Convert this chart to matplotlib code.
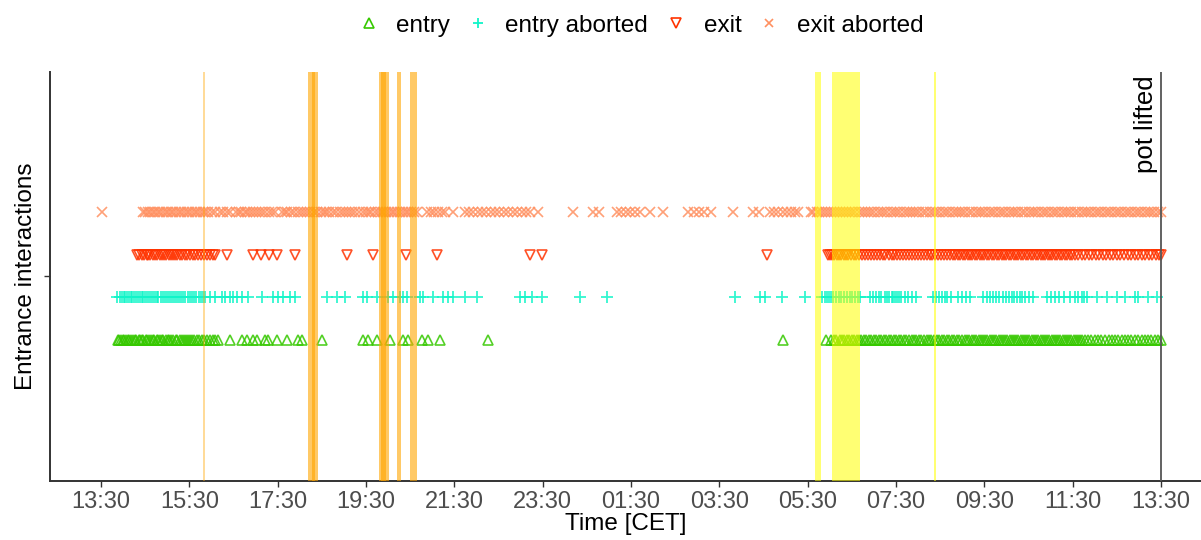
import matplotlib
matplotlib.use("Agg")
import matplotlib.pyplot as plt
from matplotlib.lines import Line2D
import matplotlib.transforms as mtransforms

# ---------------- data (clock hours; values < 13.5 belong to the next day) ----------------
categories = ["entry", "entry aborted", "exit", "exit aborted"]

entry = [
    13.88, 13.91, 13.95, 13.99, 14.02, 14.06, 14.11, 14.14, 14.18, 14.23, 14.27, 14.30, 14.35,
    14.39, 14.43, 14.46, 14.51, 14.55, 14.58, 14.63, 14.67, 14.71, 14.76, 14.79, 14.84, 14.88,
    14.91, 14.96, 15.01, 15.05, 15.09, 15.14, 15.19, 15.23, 15.28, 15.33, 15.37, 15.42, 15.47,
    15.51, 15.56, 15.61, 15.67, 15.72, 15.78, 15.84, 15.90, 15.97, 16.03, 16.09, 16.14,
    16.42, 16.69, 16.80, 16.94, 17.03, 17.21, 17.28, 17.49, 17.71, 17.96, 18.05, 18.50,
    19.43, 19.55, 19.75, 20.04, 20.34, 20.45, 20.77, 20.90, 21.18, 22.26,
    4.94, 5.91,
    6.03, 6.10, 6.15, 6.22, 6.28, 6.33, 6.39, 6.44, 6.50, 6.55, 6.61, 6.66, 6.71, 6.77, 6.83,
    6.88, 6.94, 6.99, 7.05, 7.11, 7.16, 7.22, 7.27, 7.33, 7.39, 7.45, 7.50, 7.56, 7.62, 7.67,
    7.73, 7.79, 7.85, 7.90, 7.96, 8.02, 8.07, 8.13, 8.19, 8.25, 8.30, 8.36, 8.42, 8.47, 8.53,
    8.59, 8.65, 8.70, 8.76, 8.82, 8.87, 8.93, 8.99, 9.05, 9.10, 9.16, 9.21, 9.27, 9.32, 9.37,
    9.42, 9.47, 9.52, 9.57, 9.62, 9.67, 9.72, 9.77, 9.82, 9.87, 9.92, 9.97, 10.02, 10.07,
    10.12, 10.17, 10.22, 10.27, 10.32, 10.37, 10.42, 10.47, 10.52, 10.57, 10.62, 10.67, 10.72,
    10.77, 10.82, 10.87, 10.92, 10.97, 11.02, 11.07, 11.12, 11.17, 11.22, 11.27, 11.32, 11.37,
    11.42, 11.47, 11.52, 11.57, 11.62, 11.67, 11.72, 11.77, 11.84, 11.92, 12.00, 12.08, 12.15,
    12.23, 12.31, 12.38, 12.46, 12.53, 12.61, 12.68, 12.76, 12.83, 12.91, 12.98, 13.06, 13.13,
    13.21, 13.28, 13.36, 13.43, 13.49,
]

entry_aborted = [
    13.86, 13.93, 13.97, 14.01, 14.05, 14.09, 14.13, 14.17, 14.21, 14.25, 14.29, 14.34, 14.38,
    14.42, 14.46, 14.50, 14.55, 14.59, 14.63, 14.68, 14.72, 14.76, 14.80, 14.85, 14.90, 14.94,
    14.99, 15.03, 15.08, 15.12, 15.17, 15.22, 15.27, 15.31, 15.36, 15.41, 15.46, 15.51, 15.56,
    15.61, 15.66, 15.71, 15.76, 15.81, 15.85,
    15.97, 16.08, 16.24, 16.31, 16.42, 16.49, 16.58, 16.69, 16.83, 17.14, 17.39, 17.51, 17.62,
    17.78, 17.89, 18.62, 18.84, 19.02,
    19.43, 19.52, 19.75, 20.00, 20.11, 20.27, 20.34, 20.43, 20.72, 20.79, 21.02, 21.24, 21.36,
    21.47, 21.74, 22.01, 22.99, 23.10, 23.26, 23.48,
    0.34, 0.96, 3.85, 4.42, 4.53, 4.92, 5.44,
    5.82, 5.88, 5.93, 5.98, 6.03, 6.08, 6.13, 6.20, 6.26, 6.33, 6.38, 6.45, 6.51, 6.58, 6.63,
    6.68, 6.91, 6.98, 7.05, 7.12, 7.17, 7.24, 7.30, 7.35, 7.40, 7.44, 7.48, 7.52, 7.56, 7.62,
    7.70, 7.78, 7.86, 7.95, 8.34, 8.40, 8.47, 8.53, 8.60, 8.66, 8.75, 8.90, 9.00, 9.08, 9.17,
    9.47, 9.55, 9.62, 9.70, 9.77, 9.84, 9.92, 9.98, 10.05, 10.12, 10.18, 10.24, 10.30, 10.36,
    10.42, 10.50, 10.60, 10.92, 11.00, 11.10, 11.20, 11.30, 11.44, 11.55, 11.63, 11.70, 11.75,
    11.82, 12.05, 12.27, 12.50, 12.68, 12.91, 12.98, 13.20, 13.41,
]

exit_ = [
    14.31, 14.36, 14.42, 14.47, 14.53, 14.57, 14.62, 14.68, 14.72, 14.77, 14.83, 14.88, 14.92,
    14.98, 15.03, 15.08, 15.12, 15.18, 15.23, 15.28, 15.34, 15.40, 15.45, 15.52, 15.58, 15.63,
    15.70, 15.76, 15.84, 15.90, 15.97, 16.03, 16.08,
    16.35, 16.94, 17.12, 17.30, 17.48, 17.90, 19.07, 19.66, 20.40, 21.11, 23.21, 23.48, 4.58,
    5.96, 6.01, 6.05, 6.10, 6.16, 6.20, 6.26, 6.31, 6.37, 6.42, 6.48, 6.55, 6.60, 6.67, 6.73,
    6.80, 6.86, 6.93, 7.00, 7.06, 7.13, 7.20, 7.26, 7.33, 7.40, 7.46, 7.53, 7.60, 7.66, 7.73,
    7.80, 7.86, 7.93, 8.00, 8.06, 8.13, 8.20, 8.26, 8.32, 8.38, 8.45, 8.52, 8.58, 8.65, 8.72,
    8.78, 8.84, 8.90, 8.95, 9.01, 9.06, 9.12, 9.17, 9.23, 9.28, 9.34, 9.39, 9.45, 9.50, 9.56,
    9.61, 9.67, 9.72, 9.78, 9.83, 9.89, 9.94, 10.00, 10.05, 10.11, 10.16, 10.22, 10.27, 10.33,
    10.38, 10.44, 10.49, 10.55, 10.60, 10.66, 10.71, 10.77, 10.82, 10.88, 10.93, 10.99, 11.04,
    11.10, 11.15, 11.21, 11.26, 11.32, 11.37, 11.43, 11.48, 11.54, 11.62, 11.70, 11.78, 11.86,
    11.94, 12.02, 12.10, 12.18, 12.26, 12.34, 12.42, 12.50, 12.58, 12.66, 12.74, 12.82, 12.90,
    12.98, 13.06, 13.14, 13.22, 13.30, 13.38, 13.45, 13.49,
]

exit_aborted = [
    13.53,
    14.45, 14.50, 14.56, 14.61, 14.67, 14.72, 14.78, 14.83, 14.90, 14.96, 15.02, 15.08, 15.13,
    15.20, 15.26, 15.31, 15.38, 15.44, 15.50, 15.57, 15.62, 15.68, 15.74, 15.80, 15.86, 15.93,
    16.02, 16.08, 16.20, 16.27, 16.35, 16.42, 16.56, 16.62, 16.68, 16.75, 16.81, 16.88, 16.94,
    17.01, 17.08, 17.15, 17.22, 17.30, 17.38, 17.44,
    17.60, 17.66, 17.72, 17.80, 17.86, 17.95, 18.03, 18.10, 18.17, 18.24, 18.32, 18.40, 18.47,
    18.54, 18.60, 18.67, 18.75, 18.83, 18.90, 18.97, 19.04, 19.12, 19.19, 19.26, 19.34, 19.42,
    19.49, 19.56, 19.62, 19.70, 19.76, 19.83, 19.89, 19.96, 20.02, 20.08, 20.14, 20.20, 20.27,
    20.34, 20.40, 20.46, 20.52, 20.58, 20.65,
    20.88, 20.97, 21.05, 21.14, 21.22, 21.29, 21.47, 21.74, 21.82, 21.92,
    22.04, 22.12, 22.22, 22.32, 22.42, 22.52, 22.62, 22.72, 22.82, 22.92, 23.02, 23.12, 23.21,
    23.40,
    0.19, 0.64, 0.77, 1.18, 1.28, 1.38, 1.48, 1.60, 1.70, 1.93, 2.22,
    2.80, 2.92, 3.04, 3.16, 3.30, 3.81, 4.26, 4.40,
    4.65, 4.73, 4.82, 4.93, 5.02, 5.12, 5.22, 5.28,
    5.57, 5.63, 5.70, 5.76, 5.83, 5.90, 5.96, 6.03, 6.10, 6.16, 6.23, 6.30, 6.37, 6.44, 6.50,
    6.58, 6.65, 6.72, 6.80, 6.87, 6.94, 7.01, 7.08, 7.15, 7.23, 7.30, 7.38, 7.45, 7.52, 7.60,
    7.67, 7.74, 7.82, 7.89, 7.96, 8.03, 8.11, 8.18, 8.26, 8.33, 8.41, 8.48, 8.56, 8.63, 8.70,
    8.78, 8.85, 8.92, 9.00, 9.07, 9.15, 9.22, 9.30, 9.37, 9.45, 9.52, 9.60, 9.67, 9.75, 9.82,
    9.90, 9.97, 10.05, 10.12, 10.20, 10.27, 10.35, 10.42, 10.50, 10.57, 10.65, 10.72, 10.80,
    10.87, 10.95, 11.02, 11.10, 11.17, 11.25, 11.32, 11.40, 11.47, 11.55, 11.62, 11.70, 11.77,
    11.85, 11.92, 12.00, 12.07, 12.15, 12.22, 12.30, 12.37, 12.45, 12.52, 12.60, 12.68, 12.75,
    12.83, 12.90, 12.98, 13.05, 13.13, 13.20, 13.28, 13.35, 13.42, 13.49,
]

# disturbance periods (start, end) in clock hours
orange_spans = [(15.805, 15.845), (18.19, 18.41), (18.27, 18.35), (19.79, 20.02), (19.85, 19.95),
                (20.20, 20.29), (20.50, 20.65)]
yellow_spans = [(5.66, 5.80), (6.05, 6.16), (6.17, 6.22), (6.23, 6.38), (6.39, 6.48),
                (6.49, 6.68), (8.355, 8.405)]
pot_lifted = 13.5          # next day
pot_label = "pot lifted"

x_tick_labels = ["13:30", "15:30", "17:30", "19:30", "21:30", "23:30", "01:30",
                 "03:30", "05:30", "07:30", "09:30", "11:30", "13:30"]

# ---------------- helpers ----------------
def cont(h):
    return h + 24 if h < 13.5 else h

tick_pos = []
for lab in x_tick_labels:
    hh, mm = lab.split(":")
    v = int(hh) + int(mm) / 60
    while tick_pos and v <= tick_pos[-1]:
        v += 24
    tick_pos.append(v)

plt.rcParams['font.family'] = ['Liberation Sans', 'DejaVu Sans']

fig = plt.figure(figsize=(12.01, 5.40), dpi=100)
ax = fig.add_axes([50 / 1201, 59 / 540, 1151 / 1201, 409 / 540])

styles = {
    "entry": dict(marker='^', color='#36C800', mfc='none', ms=7.5, mew=1.2),
    "entry aborted": dict(marker='+', color='#10F5C8', ms=8.5, mew=1.3),
    "exit": dict(marker='v', color='#FF3300', mfc='none', ms=7.5, mew=1.2),
    "exit aborted": dict(marker='x', color='#FF9060', ms=6.5, mew=1.2),
}
series = {"entry": entry, "entry aborted": entry_aborted, "exit": exit_, "exit aborted": exit_aborted}

for i, cat in enumerate(categories):
    xs = [cont(v) for v in series[cat]]
    ys = [i + 1] * len(xs)
    ax.plot(xs, ys, linestyle='none', alpha=0.85, zorder=2, **styles[cat])

for (a, b) in orange_spans:
    thin = (b - a) < 0.05
    ax.axvspan(cont(a), cont(b), color='#FFA500', alpha=0.4 if thin else 0.6, lw=0, zorder=3)
for (a, b) in yellow_spans:
    ax.axvspan(cont(a), cont(b), color='#FFFF00', alpha=0.55, lw=0, zorder=3)

px = pot_lifted + 24
ax.axvline(px, color='#555555', lw=1.3, zorder=4)
off = mtransforms.offset_copy(ax.get_xaxis_transform(), fig=fig, x=-3, y=-3, units='dots')
ax.text(px, 1.0, pot_label, rotation=90, ha='right', va='top', fontsize=18.5, color='black',
        transform=off)

ax.set_xlim(12.345, 12.345 + 1151 * 0.02264)
ax.set_ylim(-2.30, 7.28)
ax.set_xticks(tick_pos)
ax.set_xticklabels(x_tick_labels)
ax.set_yticks([2.5])
ax.set_yticklabels([''])
ax.tick_params(axis='both', length=4.5, width=1.0, color='#333333', labelsize=17,
               labelcolor='#4D4D4D', pad=3)
for s in ['top', 'right']:
    ax.spines[s].set_visible(False)
for s in ['left', 'bottom']:
    ax.spines[s].set_color('#333333')
    ax.spines[s].set_linewidth(1.4)
ax.set_xlabel("Time [CET]", fontsize=17.5, labelpad=0)
ax.set_ylabel("Entrance interactions", fontsize=17.5, labelpad=2)

handles = []
for cat in categories:
    st = dict(styles[cat])
    st['ms'] = st['ms'] * 0.9
    handles.append(Line2D([], [], linestyle='none', **st))
fig.legend(handles, categories, loc='center', bbox_to_anchor=(640 / 1201, 1 - 26 / 540), ncol=4,
           frameon=False, fontsize=17.5, handlelength=1.0, handletextpad=0.62,
           columnspacing=0.66)

fig.savefig("out.png", dpi=100)
